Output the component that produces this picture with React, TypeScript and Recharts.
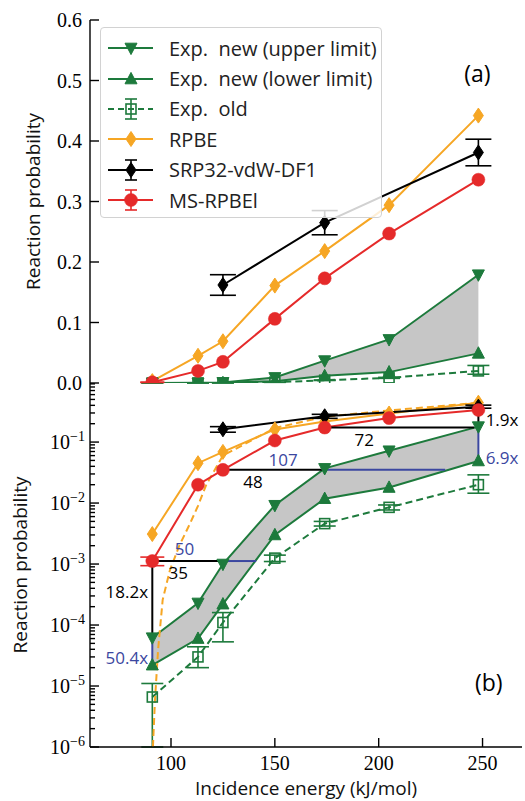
import React from 'react';
import { ComposedChart, Line, Area, XAxis, YAxis, ErrorBar, ReferenceLine, ReferenceDot, Legend } from 'recharts';

const GREEN = '#1d7a3c';
const ORANGE = '#f6a624';
const RED = '#e52a2a';
const BLACK = '#000000';
const BLUE = '#3b47a0';
const GRAY = '#c6c6c6';
const SERIF = '"Liberation Serif", "DejaVu Serif", serif';
const SANS = '"Open Sans", "DejaVu Sans", sans-serif';

// ---------- data ----------
const energies = [91, 113, 125, 150, 174, 205, 248];
const rpbe = [0.0031, 0.045, 0.069, 0.161, 0.218, 0.294, 0.442];
const msRpbel = [0.00112, 0.02, 0.035, 0.106, 0.173, 0.247, 0.336];
const msRpbelErr = [0.00018, 0, 0, 0, 0, 0, 0];
const expUpper = [6.2e-5, 2.3e-4, 1.0e-3, 0.0092, 0.037, 0.072, 0.179];
const expLower = [2.2e-5, 6.0e-5, 2.2e-4, 0.003, 0.0118, 0.018, 0.049];
const expOld = [6.6e-6, 3.0e-5, 1.1e-4, 0.00125, 0.0046, 0.0085, 0.02];
const expOldErrLow = [5.6e-6, 1.0e-5, 5.7e-5, 1.5e-4, 4e-4, 8e-4, 0.0055];
const expOldErrHigh = [4.4e-6, 1.4e-5, 5.0e-5, 1.5e-4, 4e-4, 8e-4, 0.009];

const srpEnergies = [125, 174, 248];
const srp = [0.162, 0.265, 0.381];
const srpErr = [0.017, 0.02, 0.022];

const fitEnergies = [91.3, 92.3, 93.8, 96, 99.5, 104, 109, 113, 117, 125, 150, 174, 205, 248];
const fitValues = [1e-6, 6e-6, 4e-5, 2.6e-4, 8e-4, 2.0e-3, 4.5e-3, 0.009, 0.02, 0.06, 0.17, 0.26, 0.33, 0.44];

// annotation segments: [x1, x2, y]
const hLinesBlack = [[91, 126, msRpbel[0]], [125, 173, msRpbel[2]], [174, 246, msRpbel[4]]];
const hLinesBlue = [[126, 141, msRpbel[0]], [173, 232, msRpbel[2]]];
// vertical: [x, y1, y2]
const vLinesBlack = [[91, msRpbel[0], expUpper[0]], [248, msRpbel[6], expUpper[6]]];
const vLinesBlue = [[91, expUpper[0], expLower[0]], [248, expUpper[6], expLower[6]]];

const annotations = [
  { text: '18.2x', e: 89, p: 3.5e-4, color: BLACK, anchor: 'end', size: 17 },
  { text: '50.4x', e: 89, p: 2.9e-5, color: BLUE, anchor: 'end', size: 17 },
  { text: '35', e: 103.5, p: 7.1e-4, color: BLACK, anchor: 'middle', size: 17 },
  { text: '50', e: 106.5, p: 1.8e-3, color: BLUE, anchor: 'middle', size: 17 },
  { text: '48', e: 139.5, p: 0.022, color: BLACK, anchor: 'middle', size: 17 },
  { text: '107', e: 154, p: 0.052, color: BLUE, anchor: 'middle', size: 17 },
  { text: '72', e: 193, p: 0.109, color: BLACK, anchor: 'middle', size: 17 },
  { text: '1.9x', e: 251.5, p: 0.23, color: BLACK, anchor: 'start', size: 17 },
  { text: '6.9x', e: 251.5, p: 0.055, color: BLUE, anchor: 'start', size: 17 },
  { text: '(b)', e: 253, p: 1.15e-5, color: BLACK, anchor: 'middle', size: 23 },
];
const panelALabel = { text: '(a)', e: 247.5, p: 0.512 };

const xTicks = [100, 150, 200, 250];
const linTicks = [0, 0.1, 0.2, 0.3, 0.4, 0.5, 0.6];
const logMajorTicks = [1e-6, 1e-5, 1e-4, 1e-3, 1e-2, 1e-1];
const logMinorMultipliers = [2, 3, 4, 5, 6, 7, 8, 9];
const logTicks = logMajorTicks.flatMap((m) => [m, ...logMinorMultipliers.map((k) => k * m)]);

const legendItems = [
  { name: 'Exp.  new (upper limit)', color: GREEN, kind: 'down', dashed: false, err: false },
  { name: 'Exp.  new (lower limit)', color: GREEN, kind: 'up', dashed: false, err: false },
  { name: 'Exp.  old', color: GREEN, kind: 'square', dashed: true, err: true },
  { name: 'RPBE', color: ORANGE, kind: 'diamond', dashed: false, err: false },
  { name: 'SRP32-vdW-DF1', color: BLACK, kind: 'diamond', dashed: false, err: true },
  { name: 'MS-RPBEl', color: RED, kind: 'circle', dashed: false, err: true },
];

const rows = energies.map((e, i) => ({
  e,
  rpbe: rpbe[i],
  ms: msRpbel[i],
  msErr: msRpbelErr[i],
  up: expUpper[i],
  low: expLower[i],
  band: [expLower[i], expUpper[i]],
  old: expOld[i],
  oldErr: [expOldErrLow[i], expOldErrHigh[i]],
}));
const srpRows = srpEnergies.map((e, i) => ({ e, srp: srp[i], srpErr: srpErr[i] }));
const fitRows = fitEnergies.map((e, i) => ({ e, fit: fitValues[i] }));

// ---------- layout constants ----------
const W = 525;
const Y_AXIS_W = 90;
const RIGHT_M = 3;
const A_H = 400;
const A_TOP = 20;
const A_BOTTOM = 17;
const clipA = { x: Y_AXIS_W, y: A_TOP, w: W - Y_AXIS_W - RIGHT_M, h: A_H - A_TOP - A_BOTTOM };

// ---------- markers ----------
function Marker({ kind, cx, cy, color }: any) {
  if (kind === 'down') {
    const r = 6;
    return <polygon points={`${cx - r},${cy - r * 0.8} ${cx + r},${cy - r * 0.8} ${cx},${cy + r * 1.1}`} fill={color} stroke={color} strokeWidth={1} />;
  }
  if (kind === 'up') {
    const r = 6;
    return <polygon points={`${cx - r},${cy + r * 0.8} ${cx + r},${cy + r * 0.8} ${cx},${cy - r * 1.1}`} fill={color} stroke={color} strokeWidth={1} />;
  }
  if (kind === 'diamond') {
    return <polygon points={`${cx},${cy - 7.5} ${cx + 5},${cy} ${cx},${cy + 7.5} ${cx - 5},${cy}`} fill={color} stroke={color} strokeWidth={1} />;
  }
  if (kind === 'circle') {
    return <circle cx={cx} cy={cy} r={6.5} fill={color} stroke={color} strokeWidth={0.5} />;
  }
  return <rect x={cx - 5} y={cy - 5} width={10} height={10} fill="none" stroke={color} strokeWidth={1.6} />;
}

function makeDot(kind: string, color: string, clip?: { x: number; y: number; w: number; h: number }) {
  return (p: any) => {
    if (p.cx == null || p.cy == null || isNaN(p.cy)) return <g key={`n${kind}${p.index}`} />;
    if (!clip) {
      return (
        <g key={`m${kind}${p.index}`}>
          <Marker kind={kind} cx={p.cx} cy={p.cy} color={color} />
        </g>
      );
    }
    const id = `clip-${kind}-${color.replace('#', '')}-${p.index}`;
    return (
      <g key={`m${kind}${p.index}`}>
        <defs>
          <clipPath id={id}>
            <rect x={clip.x} y={clip.y} width={clip.w} height={clip.h} />
          </clipPath>
        </defs>
        <g clipPath={`url(#${id})`}>
          <Marker kind={kind} cx={p.cx} cy={p.cy} color={color} />
        </g>
      </g>
    );
  };
}

// ---------- ticks ----------
const TM = 8;
const MAJOR = 9;
const MINOR = 5;
const AXS = { stroke: '#000', strokeWidth: 1.4 };
const isMajor = (v: number) => Math.abs(Math.log10(v) - Math.round(Math.log10(v))) < 1e-6;

const leftLinTick = (p: any) => {
  const ax = p.x + TM;
  return (
    <g key={`ll${p.index}`}>
      <line x1={ax} x2={ax + MAJOR} y1={p.y} y2={p.y} {...AXS} />
      <text x={ax - 8} y={p.y} dy="0.36em" textAnchor="end" fontFamily={SERIF} fontSize={20} fill="#000">
        {Number(p.payload.value).toFixed(1)}
      </text>
    </g>
  );
};
const rightLinTick = (p: any) => {
  const ax = p.x - TM;
  return <line key={`rl${p.index}`} x1={ax} x2={ax - MAJOR} y1={p.y} y2={p.y} {...AXS} />;
};
const leftLogTick = (p: any) => {
  const v = p.payload.value;
  const ax = p.x + TM;
  const maj = isMajor(v);
  return (
    <g key={`lg${p.index}`}>
      <line x1={ax} x2={ax + (maj ? MAJOR : MINOR)} y1={p.y} y2={p.y} {...AXS} />
      {maj && (
        <text x={ax - 5} y={p.y} dy="0.36em" textAnchor="end" fontFamily={SERIF} fontSize={20} fill="#000">
          <tspan>10</tspan>
          <tspan dy="-0.6em" fontSize={14}>{'\u2212' + String(-Math.round(Math.log10(v)))}</tspan>
        </text>
      )}
    </g>
  );
};
const rightLogTick = (p: any) => {
  const v = p.payload.value;
  const ax = p.x - TM;
  return <line key={`rg${p.index}`} x1={ax} x2={ax - (isMajor(v) ? MAJOR : MINOR)} y1={p.y} y2={p.y} {...AXS} />;
};
const bottomTickLabel = (p: any) => {
  const ay = p.y - TM;
  return (
    <g key={`bx${p.index}`}>
      <line x1={p.x} x2={p.x} y1={ay} y2={ay - MAJOR} {...AXS} />
      <text x={p.x} y={ay + 23} textAnchor="middle" fontFamily={SERIF} fontSize={20} fill="#000">
        {p.payload.value}
      </text>
    </g>
  );
};
const bottomTickPlain = (p: any) => {
  const ay = p.y - TM;
  return <line key={`bp${p.index}`} x1={p.x} x2={p.x} y1={ay} y2={ay - MAJOR} {...AXS} />;
};
const topTick = (p: any) => {
  const ay = p.y + TM;
  return <line key={`tp${p.index}`} x1={p.x} x2={p.x} y1={ay} y2={ay + MAJOR} {...AXS} />;
};

const yLabel = (bx: number) => (props: any) => {
  const vb = props.viewBox || {};
  const cy = (vb.y ?? 0) + (vb.height ?? 0) / 2;
  return (
    <text transform={`translate(${bx}, ${cy}) rotate(-90)`} textAnchor="middle" fontFamily={SANS} fontSize={19} fill="#111">
      Reaction probability
    </text>
  );
};
const xLabel = (props: any) => {
  const vb = props.viewBox || {};
  return (
    <text x={(vb.x ?? 0) + (vb.width ?? 0) / 2} y={(vb.y ?? 0) + 48} textAnchor="middle" fontFamily={SANS} fontSize={19} fill="#111">
      Incidence energy (kJ/mol)
    </text>
  );
};

const LegendBox = () => (
  <div
    style={{
      width: 282,
      height: 191,
      boxSizing: 'border-box',
      border: '1px solid #d2d2d2',
      borderRadius: 4,
      background: 'rgba(255,255,255,0.82)',
      paddingTop: 5,
      fontFamily: SANS,
      fontSize: 20,
      color: '#222',
    }}
  >
    {legendItems.map((it) => (
      <div key={it.name} style={{ display: 'flex', alignItems: 'center', height: 30.4 }}>
        <svg width={68} height={30} style={{ flex: 'none' }}>
          <line x1={7} x2={52} y1={15} y2={15} stroke={it.color} strokeWidth={2} strokeDasharray={it.dashed ? '6 4' : undefined} />
          {it.err && (
            <g stroke={it.color} strokeWidth={1.6}>
              <line x1={30} x2={30} y1={5} y2={25} />
              <line x1={24} x2={36} y1={5} y2={5} />
              <line x1={24} x2={36} y1={25} y2={25} />
            </g>
          )}
          <Marker kind={it.kind} cx={30} cy={15} color={it.color} />
        </svg>
        <span style={{ whiteSpace: 'pre' }}>{it.name}</span>
      </div>
    ))}
  </div>
);

const textShape = (a: any) => (p: any) => (
  <text x={p.cx} y={p.cy} dy="0.36em" textAnchor={a.anchor} fontFamily={SANS} fontSize={a.size} fill={a.color}>
    {a.text}
  </text>
);

export default function App() {
  const X = { xAxisId: 'b', yAxisId: 'l' };
  return (
    <div style={{ position: 'absolute', left: 0, top: 0, width: W, height: 801, background: '#fff' }}>
      <div style={{ position: 'absolute', left: 0, top: 0 }}>
        <ComposedChart width={W} height={A_H} data={rows} margin={{ top: A_TOP, right: RIGHT_M, bottom: A_BOTTOM, left: 0 }}>
          <XAxis xAxisId="b" dataKey="e" type="number" domain={[61, 269]} ticks={xTicks} interval={0} allowDataOverflow height={0} tickSize={0} tickMargin={TM} tick={bottomTickPlain} axisLine={AXS} />
          <XAxis xAxisId="t" orientation="top" dataKey="e" type="number" domain={[61, 269]} ticks={xTicks} interval={0} allowDataOverflow height={0} tickSize={0} tickMargin={TM} tick={topTick} axisLine={AXS} />
          <YAxis yAxisId="l" type="number" domain={[0, 0.6]} ticks={linTicks} interval={0} allowDataOverflow width={Y_AXIS_W} tickSize={0} tickMargin={TM} tick={leftLinTick} axisLine={AXS} label={yLabel(40)} />
          <YAxis yAxisId="r" orientation="right" type="number" domain={[0, 0.6]} ticks={linTicks} interval={0} allowDataOverflow width={0} tickSize={0} tickMargin={TM} tick={rightLinTick} axisLine={AXS} />
          <Area {...X} dataKey="band" fill={GRAY} fillOpacity={1} stroke="none" isAnimationActive={false} activeDot={false} />
          <Line {...X} dataKey="old" stroke={GREEN} strokeWidth={2} strokeDasharray="7 4" isAnimationActive={false} dot={makeDot('square', GREEN, clipA)} activeDot={false}>
            <ErrorBar dataKey="oldErr" width={11} stroke={GREEN} strokeWidth={1.6} direction="y" />
          </Line>
          <Line {...X} dataKey="low" stroke={GREEN} strokeWidth={2} isAnimationActive={false} dot={makeDot('up', GREEN, clipA)} activeDot={false} />
          <Line {...X} dataKey="up" stroke={GREEN} strokeWidth={2} isAnimationActive={false} dot={makeDot('down', GREEN, clipA)} activeDot={false} />
          <Line {...X} dataKey="rpbe" stroke={ORANGE} strokeWidth={2} isAnimationActive={false} dot={makeDot('diamond', ORANGE, clipA)} activeDot={false} />
          <Line {...X} data={srpRows} dataKey="srp" stroke={BLACK} strokeWidth={2} isAnimationActive={false} dot={makeDot('diamond', BLACK, clipA)} activeDot={false}>
            <ErrorBar dataKey="srpErr" width={13} stroke={BLACK} strokeWidth={1.6} direction="y" />
          </Line>
          <Line {...X} dataKey="ms" stroke={RED} strokeWidth={2} isAnimationActive={false} dot={makeDot('circle', RED, clipA)} activeDot={false}>
            <ErrorBar dataKey="msErr" width={12} stroke={RED} strokeWidth={1.6} direction="y" />
          </Line>
          <ReferenceDot {...X} x={panelALabel.e} y={panelALabel.p} shape={textShape({ text: panelALabel.text, anchor: 'middle', size: 23, color: BLACK })} />
          <Legend layout="vertical" verticalAlign="middle" align="center" content={() => <LegendBox />} wrapperStyle={{ position: 'absolute', left: 100, top: 27, width: 282, height: 191 }} />
        </ComposedChart>
      </div>
      <div style={{ position: 'absolute', left: 0, top: 383 }}>
        <ComposedChart width={W} height={418} data={rows} margin={{ top: 0, right: RIGHT_M, bottom: 0, left: 0 }}>
          <XAxis xAxisId="b" dataKey="e" type="number" domain={[61, 269]} ticks={xTicks} interval={0} allowDataOverflow height={54} tickSize={0} tickMargin={TM} tick={bottomTickLabel} axisLine={AXS} label={xLabel} />
          <XAxis xAxisId="t" orientation="top" dataKey="e" type="number" domain={[61, 269]} ticks={xTicks} interval={0} allowDataOverflow height={0} tickSize={0} tickMargin={TM} tick={topTick} axisLine={AXS} />
          <YAxis yAxisId="l" type="number" scale="log" domain={[1e-6, 0.93]} ticks={logTicks} interval={0} allowDataOverflow width={Y_AXIS_W} tickSize={0} tickMargin={TM} tick={leftLogTick} axisLine={AXS} label={yLabel(27)} />
          <YAxis yAxisId="r" orientation="right" type="number" scale="log" domain={[1e-6, 0.93]} ticks={logTicks} interval={0} allowDataOverflow width={0} tickSize={0} tickMargin={TM} tick={rightLogTick} axisLine={AXS} />
          <Area {...X} dataKey="band" fill={GRAY} fillOpacity={1} stroke="none" isAnimationActive={false} activeDot={false} />
          <Line {...X} dataKey="old" stroke={GREEN} strokeWidth={2} strokeDasharray="7 4" isAnimationActive={false} dot={makeDot('square', GREEN)} activeDot={false}>
            <ErrorBar dataKey="oldErr" width={11} stroke={GREEN} strokeWidth={1.6} direction="y" />
          </Line>
          <Line {...X} dataKey="low" stroke={GREEN} strokeWidth={2} isAnimationActive={false} dot={makeDot('up', GREEN)} activeDot={false} />
          <Line {...X} dataKey="up" stroke={GREEN} strokeWidth={2} isAnimationActive={false} dot={makeDot('down', GREEN)} activeDot={false} />
          <Line {...X} data={fitRows} dataKey="fit" stroke={ORANGE} strokeWidth={2} strokeDasharray="7 4" isAnimationActive={false} dot={false} activeDot={false} />
          <Line {...X} dataKey="rpbe" stroke={ORANGE} strokeWidth={2} isAnimationActive={false} dot={makeDot('diamond', ORANGE)} activeDot={false} />
          <Line {...X} data={srpRows} dataKey="srp" stroke={BLACK} strokeWidth={2} isAnimationActive={false} dot={makeDot('diamond', BLACK)} activeDot={false}>
            <ErrorBar dataKey="srpErr" width={13} stroke={BLACK} strokeWidth={1.6} direction="y" />
          </Line>
          <Line {...X} dataKey="ms" stroke={RED} strokeWidth={2} isAnimationActive={false} dot={makeDot('circle', RED)} activeDot={false}>
            <ErrorBar dataKey="msErr" width={12} stroke={RED} strokeWidth={1.6} direction="y" />
          </Line>
          {hLinesBlack.map((s, i) => (
            <ReferenceLine key={`hb${i}`} {...X} segment={[{ x: s[0], y: s[2] }, { x: s[1], y: s[2] }]} stroke={BLACK} strokeWidth={2} ifOverflow="visible" />
          ))}
          {hLinesBlue.map((s, i) => (
            <ReferenceLine key={`hu${i}`} {...X} segment={[{ x: s[0], y: s[2] }, { x: s[1], y: s[2] }]} stroke={BLUE} strokeWidth={2} ifOverflow="visible" />
          ))}
          {vLinesBlack.map((s, i) => (
            <ReferenceLine key={`vb${i}`} {...X} segment={[{ x: s[0], y: s[1] }, { x: s[0], y: s[2] }]} stroke={BLACK} strokeWidth={2} ifOverflow="visible" />
          ))}
          {vLinesBlue.map((s, i) => (
            <ReferenceLine key={`vu${i}`} {...X} segment={[{ x: s[0], y: s[1] }, { x: s[0], y: s[2] }]} stroke={BLUE} strokeWidth={2} ifOverflow="visible" />
          ))}
          {annotations.map((a, i) => (
            <ReferenceDot key={`an${i}`} {...X} x={a.e} y={a.p} shape={textShape(a)} />
          ))}
        </ComposedChart>
      </div>
    </div>
  );
}
